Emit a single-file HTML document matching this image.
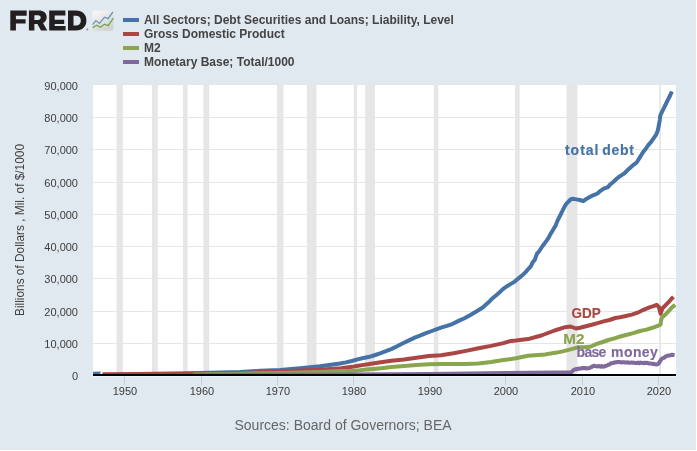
<!DOCTYPE html>
<html><head><meta charset="utf-8"><style>
html,body{margin:0;padding:0;background:#e1e9f0;}
svg{display:block;will-change:transform;font-family:"Liberation Sans",sans-serif;}
</style></head><body>
<svg width="697" height="451" viewBox="0 0 697 451">
<rect x="0" y="0" width="697" height="451" fill="#e1e9f0"/>
<rect x="93" y="85" width="583" height="290" fill="#ffffff"/>
<rect x="93" y="343" width="583" height="1" fill="#e6e6e6"/>
<rect x="93" y="311" width="583" height="1" fill="#e6e6e6"/>
<rect x="93" y="278" width="583" height="1" fill="#e6e6e6"/>
<rect x="93" y="246" width="583" height="1" fill="#e6e6e6"/>
<rect x="93" y="214" width="583" height="1" fill="#e6e6e6"/>
<rect x="93" y="182" width="583" height="1" fill="#e6e6e6"/>
<rect x="93" y="149" width="583" height="1" fill="#e6e6e6"/>
<rect x="93" y="117" width="583" height="1" fill="#e6e6e6"/>
<rect x="93" y="84" width="583" height="1" fill="#e6e6e6"/>
<rect x="116.54" y="85" width="6.31" height="290" fill="#e6e6e6"/>
<rect x="151.90" y="85" width="5.86" height="290" fill="#e6e6e6"/>
<rect x="183.01" y="85" width="4.59" height="290" fill="#e6e6e6"/>
<rect x="203.33" y="85" width="5.86" height="290" fill="#e6e6e6"/>
<rect x="276.98" y="85" width="6.50" height="290" fill="#e6e6e6"/>
<rect x="306.82" y="85" width="9.67" height="290" fill="#e6e6e6"/>
<rect x="353.80" y="85" width="3.32" height="290" fill="#e6e6e6"/>
<rect x="365.23" y="85" width="9.67" height="290" fill="#e6e6e6"/>
<rect x="433.80" y="85" width="4.59" height="290" fill="#e6e6e6"/>
<rect x="515.07" y="85" width="4.59" height="290" fill="#e6e6e6"/>
<rect x="566.50" y="85" width="10.94" height="290" fill="#e6e6e6"/>
<rect x="659.20" y="85" width="1.80" height="290" fill="#e6e6e6"/>
<defs><clipPath id="pc"><rect x="93" y="84" width="583" height="290.6"/></clipPath></defs>
<g fill="none" stroke-width="4" stroke-linejoin="round" stroke-linecap="butt" clip-path="url(#pc)">
<polyline points="92.5,373.7 100.5,373.6" stroke="#4572a7"/>
<polyline points="137.7,374.0 160.0,373.8 180.0,373.4 200.0,372.9 221.0,372.6 240.0,372.0 260.0,370.8 280.0,369.9 300.0,368.2 320.0,366.2 340.0,363.5 345.9,362.4 351.8,361.0 357.6,359.4 363.5,358.0 369.4,356.8 375.3,355.0 380.0,353.4 385.9,351.2 391.8,348.9 397.6,346.0 403.5,343.0 409.4,340.1 415.3,337.4 420.0,335.6 425.9,333.2 431.8,331.0 437.6,328.8 441.0,327.7 446.9,325.9 452.8,323.8 458.6,320.9 464.5,318.2 470.4,315.0 476.3,311.5 482.0,308.0 484.4,305.9 489.7,301.2 492.6,298.2 496.2,295.3 499.4,292.4 502.6,289.4 506.5,286.5 510.9,283.9 514.7,281.6 516.8,279.7 520.0,277.1 522.6,275.0 525.6,272.1 528.5,268.8 530.9,266.2 532.6,262.4 535.0,259.4 535.9,256.5 537.1,253.5 539.5,250.8 542.4,246.2 544.7,243.2 546.8,240.3 548.8,237.4 550.3,234.4 552.1,231.5 553.8,228.5 555.6,225.6 557.4,220.9 560.4,215.0 562.7,210.3 564.8,206.2 566.8,203.2 568.6,201.5 570.9,199.1 572.7,198.8 576.2,199.4 579.8,200.0 583.3,201.2 586.0,199.2 589.0,197.4 591.9,195.8 594.8,194.7 597.8,193.2 600.5,190.8 604.1,188.4 607.6,187.4 609.9,184.8 613.5,181.8 617.0,178.5 619.4,176.5 622.9,174.4 625.2,172.7 627.6,170.0 630.5,167.4 633.5,164.8 636.5,162.7 639.7,157.6 641.8,154.2 643.8,151.2 646.2,148.3 648.1,145.3 651.3,141.7 653.7,138.2 656.2,134.6 657.6,131.1 658.4,127.5 659.1,124.0 659.8,119.8 660.2,116.2 661.0,113.8 662.6,110.6 664.6,106.6 666.5,102.7 668.5,98.7 670.1,95.5 671.9,91.5" stroke="#4572a7"/>
<polyline points="102.4,374.2 140.0,374.1 180.0,373.8 200.0,373.6 221.0,373.4 240.0,373.0 260.0,372.3 280.0,371.6 300.0,370.5 320.0,369.7 341.0,368.2 354.0,366.5 366.5,364.4 379.0,362.6 391.5,360.7 404.0,359.4 416.4,357.8 428.9,356.1 441.0,355.3 453.5,353.3 466.0,350.9 478.5,348.3 491.0,345.9 503.4,343.1 510.9,340.9 515.9,340.6 528.0,339.1 541.3,335.5 554.6,330.5 565.2,327.2 570.6,326.5 575.9,328.5 580.0,327.8 585.9,326.2 591.8,324.7 597.6,323.1 603.5,321.4 609.4,320.0 615.3,318.0 620.0,317.3 625.9,316.0 631.8,314.6 637.6,312.7 643.5,309.8 649.4,307.4 653.5,306.1 656.7,304.8 658.9,307.0 660.6,313.7 662.4,308.3 665.1,305.7 668.6,302.1 671.3,299.0 673.5,296.8" stroke="#aa4643"/>
<polyline points="193.5,374.3 221.0,374.0 240.0,373.7 260.0,373.2 280.0,373.1 300.0,372.6 320.0,372.0 341.0,371.1 354.0,370.9 366.5,369.6 379.0,368.4 391.5,367.1 404.0,365.9 416.4,365.0 428.9,364.2 441.0,364.1 453.5,364.1 466.0,364.0 478.5,363.6 491.0,362.0 503.4,360.1 515.9,358.3 528.0,355.8 545.0,354.5 550.9,353.4 556.8,352.6 562.6,351.4 568.5,349.9 574.4,348.4 577.4,347.3 585.5,347.2 590.9,346.5 596.8,343.9 602.6,342.0 608.5,340.0 614.4,338.3 620.3,336.5 626.0,335.0 633.3,333.1 639.9,331.0 646.6,329.6 650.0,328.5 654.4,327.2 658.9,325.4 660.6,324.5 661.1,320.1 662.0,317.4 665.1,314.8 668.6,311.2 672.2,307.2 675.3,305.0" stroke="#89a54e"/>
<polyline points="193.5,374.8 277.0,374.7 353.0,374.5 391.0,374.3 430.0,374.0 468.0,373.6 506.0,373.1 530.0,372.7 560.0,372.5 571.5,372.2 573.5,370.0 574.5,369.6 575.8,369.1 577.1,369.3 578.4,368.5 579.7,368.7 581.0,368.4 582.3,367.9 583.6,368.3 584.9,367.9 586.2,368.4 587.5,368.2 588.8,368.3 590.1,367.7 591.4,367.2 592.7,366.1 594.0,365.8 595.3,366.1 596.6,366.4 597.9,366.2 599.2,366.1 600.5,366.7 601.8,366.0 603.1,366.8 604.4,366.3 605.7,365.8 607.0,365.5 608.3,364.8 609.6,364.5 610.9,363.2 612.2,363.1 613.5,362.9 614.8,362.3 616.1,362.4 617.4,361.9 618.7,361.9 620.0,362.1 621.3,362.5 622.6,362.3 623.9,362.2 625.2,362.5 626.5,362.4 627.8,362.3 629.1,362.8 630.4,362.7 631.7,362.4 633.0,362.7 634.3,362.7 635.6,363.1 636.9,363.0 638.2,362.6 639.5,363.3 640.8,362.6 642.1,362.9 643.4,363.2 644.7,362.7 646.0,363.1 647.3,362.8 648.6,363.4 649.9,363.6 651.2,363.5 652.5,364.0 653.8,363.7 655.1,364.3 656.4,364.4 657.7,364.3 659.0,363.1 660.3,360.8 661.6,358.9 662.9,358.1 664.2,357.8 665.5,356.4 666.8,356.1 668.1,355.4 669.4,355.5 670.7,355.2 672.0,354.7 673.3,354.9 674.6,355.1" stroke="#80699b"/>
</g>
<rect x="93" y="374" width="583" height="2" fill="#000"/>
<rect x="93" y="376" width="583" height="1" fill="#eef3f8"/>
<rect x="124" y="376" width="1" height="9" fill="#c0d0e0"/>
<rect x="201" y="376" width="1" height="9" fill="#c0d0e0"/>
<rect x="277" y="376" width="1" height="9" fill="#c0d0e0"/>
<rect x="353" y="376" width="1" height="9" fill="#c0d0e0"/>
<rect x="429" y="376" width="1" height="9" fill="#c0d0e0"/>
<rect x="505" y="376" width="1" height="9" fill="#c0d0e0"/>
<rect x="582" y="376" width="1" height="9" fill="#c0d0e0"/>
<rect x="658" y="376" width="1" height="9" fill="#c0d0e0"/>
<text x="78" y="380" text-anchor="end" font-size="11" fill="#3d3d3d">0</text>
<text x="78" y="348" text-anchor="end" font-size="11" fill="#3d3d3d">10,000</text>
<text x="78" y="316" text-anchor="end" font-size="11" fill="#3d3d3d">20,000</text>
<text x="78" y="283" text-anchor="end" font-size="11" fill="#3d3d3d">30,000</text>
<text x="78" y="251" text-anchor="end" font-size="11" fill="#3d3d3d">40,000</text>
<text x="78" y="219" text-anchor="end" font-size="11" fill="#3d3d3d">50,000</text>
<text x="78" y="187" text-anchor="end" font-size="11" fill="#3d3d3d">60,000</text>
<text x="78" y="154" text-anchor="end" font-size="11" fill="#3d3d3d">70,000</text>
<text x="78" y="122" text-anchor="end" font-size="11" fill="#3d3d3d">80,000</text>
<text x="78" y="90" text-anchor="end" font-size="11" fill="#3d3d3d">90,000</text>
<text x="125.0" y="395" text-anchor="middle" font-size="11" fill="#3a3a3a">1950</text>
<text x="202.0" y="395" text-anchor="middle" font-size="11" fill="#3a3a3a">1960</text>
<text x="278.0" y="395" text-anchor="middle" font-size="11" fill="#3a3a3a">1970</text>
<text x="354.0" y="395" text-anchor="middle" font-size="11" fill="#3a3a3a">1980</text>
<text x="430.0" y="395" text-anchor="middle" font-size="11" fill="#3a3a3a">1990</text>
<text x="506.0" y="395" text-anchor="middle" font-size="11" fill="#3a3a3a">2000</text>
<text x="583.0" y="395" text-anchor="middle" font-size="11" fill="#3a3a3a">2010</text>
<text x="659.0" y="395" text-anchor="middle" font-size="11" fill="#3a3a3a">2020</text>
<text transform="translate(24,316) rotate(-90)" font-size="12" fill="#404040" textLength="172" lengthAdjust="spacingAndGlyphs">Billions of Dollars , Mil. of $/1000</text>
<text x="234.5" y="430" font-size="14" fill="#666">Sources: Board of Governors; BEA</text>
<rect x="123" y="18" width="16" height="4" fill="#4572a7"/>
<text x="144" y="24" font-size="12" font-weight="bold" fill="#444">All Sectors; Debt Securities and Loans; Liability, Level</text>
<rect x="123" y="32" width="16" height="4" fill="#aa4643"/>
<text x="144" y="38" font-size="12" font-weight="bold" fill="#444">Gross Domestic Product</text>
<rect x="123" y="46" width="16" height="4" fill="#89a54e"/>
<text x="144" y="52" font-size="12" font-weight="bold" fill="#444">M2</text>
<rect x="123" y="60" width="16" height="4" fill="#80699b"/>
<text x="144" y="66" font-size="12" font-weight="bold" fill="#444">Monetary Base; Total/1000</text>
<text x="564.9" y="154.6" font-size="14" font-weight="bold" fill="#4572a7" stroke="#4572a7" stroke-width="0.15" textLength="33.6" lengthAdjust="spacing">total</text>
<text x="602.2" y="154.6" font-size="14" font-weight="bold" fill="#4572a7" stroke="#4572a7" stroke-width="0.15" textLength="31.6" lengthAdjust="spacing">debt</text>
<text x="571.5" y="317.8" font-size="14.2" font-weight="bold" fill="#aa4643" stroke="#aa4643" stroke-width="0.15" textLength="29.2" lengthAdjust="spacingAndGlyphs">GDP</text>
<text x="563.2" y="343.9" font-size="14.2" font-weight="bold" fill="#89a54e" stroke="#89a54e" stroke-width="0.15" textLength="21.2" lengthAdjust="spacingAndGlyphs">M2</text>
<text x="576.5" y="357.3" font-size="14" font-weight="bold" fill="#80699b" stroke="#80699b" stroke-width="0.15" textLength="29.9" lengthAdjust="spacing">base</text>
<text x="611.0" y="357.3" font-size="14" font-weight="bold" fill="#80699b" stroke="#80699b" stroke-width="0.15" textLength="46.9" lengthAdjust="spacing">money</text>
<g fill="#231f20"><path d="M10.3 10.6h16.4v5.1h-10.8v3.5h9.7v4.4h-9.7v7h-5.6z"/><path d="M28.9 10.6h9.6c5.2 0 8.2 2.6 8.2 6.6 0 2.9-1.5 4.8-3.7 5.8l4.3 7.6h-6.3l-3.6-6.7h-3v6.7h-5.5z M34.4 15.3v4.6h3.6c1.7 0 2.7-0.9 2.7-2.3s-1-2.3-2.7-2.3z" fill-rule="evenodd"/><path d="M49.2 10.6h16.2v5h-10.7v4.2h9.5v4.1h-9.5v2h10.9v4.7h-16.4z"/><path d="M68 10.6h8c6.4 0 10.4 3.9 10.4 10s-4 10-10.4 10h-8z M73.5 15.8v9.7h2.3c3.3 0 5-1.8 5-4.85s-1.7-4.85-5-4.85z" fill-rule="evenodd"/></g>
<circle cx="87.3" cy="29.6" r="1" fill="#888"/>
<defs><linearGradient id="ig" x1="0" y1="0" x2="0.6" y2="1"><stop offset="0" stop-color="#fafafa"/><stop offset="1" stop-color="#d2d2d2"/></linearGradient></defs>
<rect x="92.5" y="10.8" width="21" height="20" rx="2" fill="url(#ig)"/>
<polyline points="92.6,24.7 95.9,20.6 99.4,23.4 104.6,17.2 108.1,18.6 112.9,12" fill="none" stroke="#6a93bb" stroke-width="1.3"/>
<polyline points="92.6,27.6 96.7,25.3 100.2,27.3 104.6,24.2 108.1,25.6 113.4,18.1" fill="none" stroke="#70a84f" stroke-width="1.3"/>
<rect x="696" y="0" width="1" height="451" fill="#fff"/>
<rect x="0" y="450" width="697" height="1" fill="#fff"/>
</svg>
</body></html>
